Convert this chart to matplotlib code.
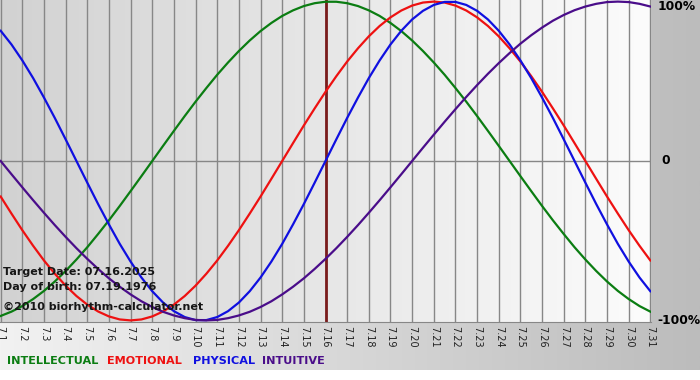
import numpy as np
import matplotlib
matplotlib.use('Agg')
import matplotlib.pyplot as plt
from matplotlib.colors import LinearSegmentedColormap

# Days of July 2025 shown on the chart
days = list(range(1, 32))
tick_labels = ['7.%d' % d for d in days]
target_day = 16
half_days = [1 + i / 2 for i in range(61)]

# Cycle values (-1..1)
intellectual = [-0.972, -0.945, -0.910, -0.866, -0.815, -0.756, -0.690, -0.618, -0.541, -0.458,
                -0.372, -0.282, -0.189, -0.095,
                0.0, 0.095, 0.189, 0.282, 0.372, 0.458, 0.541, 0.618, 0.690, 0.756,
                0.815, 0.866, 0.910, 0.945, 0.972, 0.990, 0.999, 0.999, 0.990, 0.972,
                0.945, 0.910, 0.866, 0.815, 0.756, 0.690, 0.618, 0.541, 0.458, 0.372,
                0.282, 0.189, 0.095,
                0.0, -0.095, -0.189, -0.282, -0.372, -0.458, -0.541, -0.618, -0.690, -0.756,
                -0.815, -0.866, -0.910, -0.945]
emotional = [-0.223, -0.330, -0.434, -0.532, -0.624, -0.707, -0.782, -0.847, -0.901, -0.944,
             -0.975, -0.994, -1.0, -0.994, -0.975, -0.944, -0.901, -0.847, -0.782, -0.707,
             -0.624, -0.532, -0.434, -0.330, -0.223, -0.112,
             0.0, 0.112, 0.223, 0.330, 0.434, 0.532, 0.624, 0.707, 0.782, 0.847,
             0.901, 0.944, 0.975, 0.994, 1.0, 0.994, 0.975, 0.944, 0.901, 0.847,
             0.782, 0.707, 0.624, 0.532, 0.434, 0.330, 0.223, 0.112,
             0.0, -0.112, -0.223, -0.330, -0.434, -0.532, -0.624]
physical = [0.817, 0.731, 0.631, 0.520, 0.398, 0.270, 0.136, 0.0, -0.136, -0.270,
            -0.398, -0.520, -0.631, -0.731, -0.817, -0.888, -0.942, -0.979, -0.998, -0.998,
            -0.979, -0.942, -0.888, -0.817, -0.731, -0.631, -0.520, -0.398, -0.270, -0.136,
            0.0, 0.136, 0.270, 0.398, 0.520, 0.631, 0.731, 0.817, 0.888, 0.942,
            0.979, 0.998, 0.998, 0.979, 0.942, 0.888, 0.817, 0.731, 0.631, 0.520,
            0.398, 0.270, 0.136, 0.0, -0.136, -0.270, -0.398, -0.520, -0.631, -0.731,
            -0.817]
intuitive = [0.0, -0.083, -0.165, -0.246, -0.325, -0.402, -0.476, -0.547, -0.614, -0.677,
             -0.736, -0.789, -0.837, -0.880, -0.916, -0.946, -0.969, -0.986, -0.997, -1.0,
             -0.997, -0.986, -0.969, -0.946, -0.916, -0.880, -0.837, -0.789, -0.736, -0.677,
             -0.614, -0.547, -0.476, -0.402, -0.325, -0.246, -0.165, -0.083,
             0.0, 0.083, 0.165, 0.246, 0.325, 0.402, 0.476, 0.547, 0.614, 0.677,
             0.736, 0.789, 0.837, 0.880, 0.916, 0.946, 0.969, 0.986, 0.997, 1.0,
             0.997, 0.986, 0.969]

series = [('INTELLECTUAL', intellectual, '#0b7d12'),
          ('EMOTIONAL', emotional, '#ee1111'),
          ('PHYSICAL', physical, '#1010e0'),
          ('INTUITIVE', intuitive, '#4a0d8a')]

W, H = 700, 380
fig = plt.figure(figsize=(W / 100, H / 100), dpi=100)
fig.patch.set_facecolor('white')

# outer gray gradient background
bg = fig.add_axes([0, 10 / H, 1, 370 / H])
bg.axis('off')
bg.imshow(np.linspace(0, 1, 256)[None, :], aspect='auto', extent=[0, 1, 0, 1],
          cmap=LinearSegmentedColormap.from_list('outer', ['#f2f2f2', '#bcbcbc']))
bg.set_xlim(0, 1)
bg.set_ylim(0, 1)

# plot area
ax = fig.add_axes([0, 58 / H, 651 / W, 322 / H])
x0, x1 = 0.97, 31.03
y0, y1 = -1.01, 1.01
ax.imshow(np.linspace(0, 1, 256)[None, :], aspect='auto', extent=[x0, x1, y0, y1],
          cmap=LinearSegmentedColormap.from_list('inner', ['#d2d2d2', '#fcfcfc']), zorder=0)
ax.set_xlim(x0, x1)
ax.set_ylim(y0, y1)

for d in days:
    ax.axvline(d, color='#878787', lw=1, zorder=1)
ax.axhline(0, color='#878787', lw=1, zorder=1)

ax.axvline(target_day, color='#7a1c1c', lw=2, zorder=2)

for name, vals, col in series:
    ax.plot(half_days, vals, color=col, lw=1.6, zorder=3, solid_joinstyle='round')

for s in ['top', 'right', 'left']:
    ax.spines[s].set_visible(False)
ax.spines['bottom'].set_color('#878787')
ax.set_yticks([])
ax.set_xticks(days)
ax.set_xticklabels(tick_labels, rotation=270)
ax.tick_params(axis='x', length=0, pad=3, labelsize=7, labelcolor='#222222')

info = [('Target Date: 07.16.2025', 272), ('Day of birth: 07.19.1976', 287),
        ('\u00a92010 biorhythm-calculator.net', 307)]
for txt, ypix in info:
    ax.text(3 / 651, 1 - ypix / 322, txt, transform=ax.transAxes, fontsize=8,
            fontweight='bold', color='#161616', va='center', ha='left', zorder=4)

# right side percent labels
fig.text(658 / W, 1 - 7 / H, '100%', fontsize=8.8, fontweight='bold', va='center')
fig.text(661 / W, 1 - 161 / H, '0', fontsize=8.8, fontweight='bold', va='center')
fig.text(657 / W, 1 - 321 / H, '-100%', fontsize=8.8, fontweight='bold', va='center')

# legend
legend_x = [7, 107, 193, 262]
for (name, vals, col), lx in zip(series, legend_x):
    fig.text(lx / W, 1 - 361 / H, name, fontsize=8.1, fontweight='bold', color=col, va='center')

fig.savefig('out.png', dpi=100)
